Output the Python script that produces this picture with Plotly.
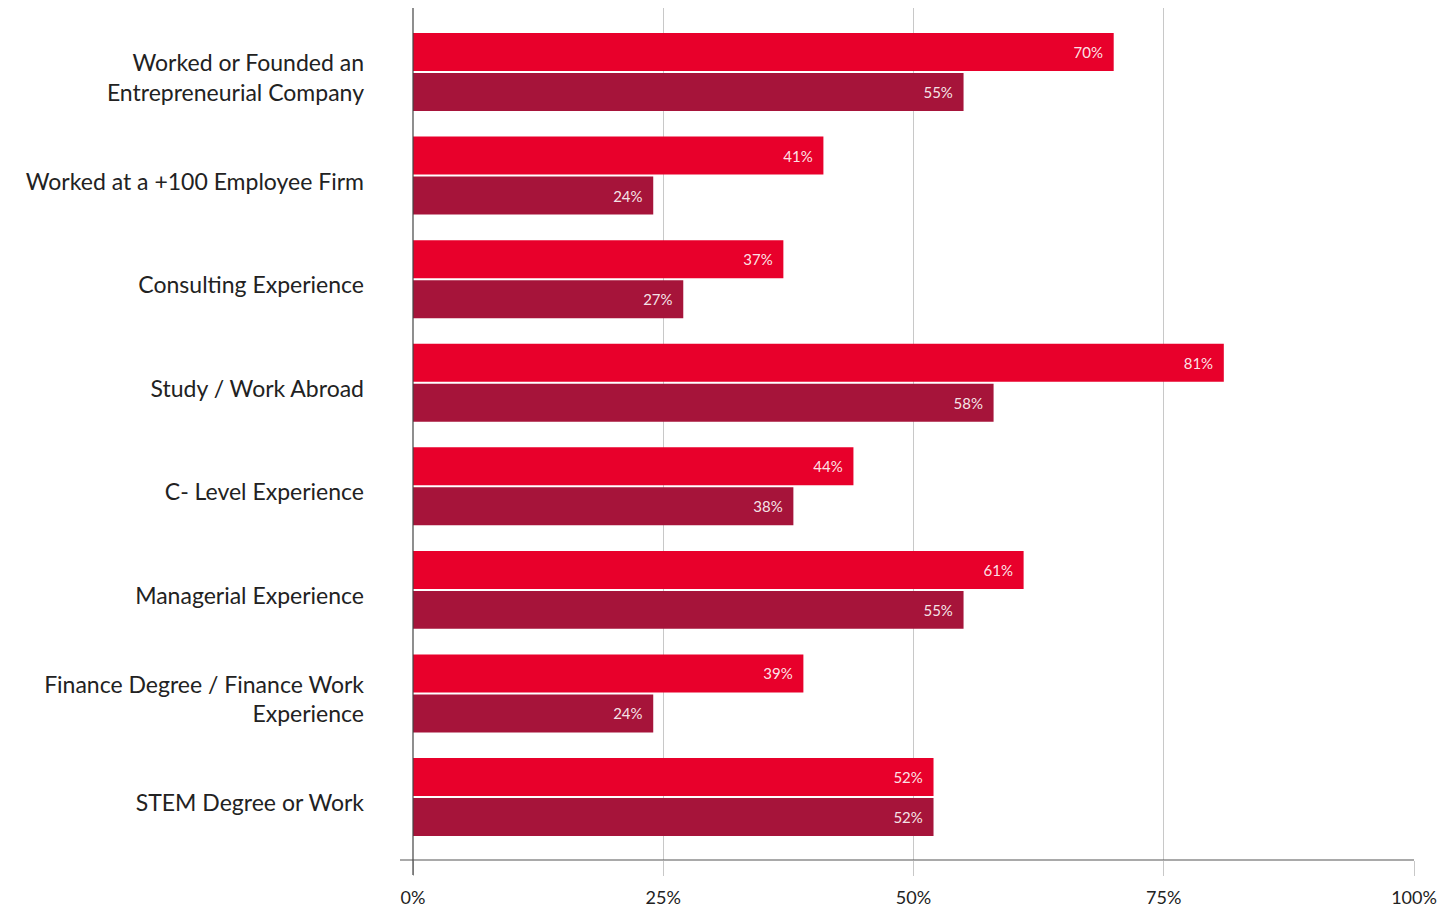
import plotly.graph_objects as go

categories = [
    "Worked or Founded an<br>Entrepreneurial Company",
    "Worked at a +100 Employee Firm",
    "Consulting Experience",
    "Study / Work Abroad",
    "C- Level Experience",
    "Managerial Experience",
    "Finance Degree / Finance Work<br>Experience",
    "STEM Degree or Work",
]
series_1 = [70, 41, 37, 81, 44, 61, 39, 52]
series_2 = [55, 24, 27, 58, 38, 55, 24, 52]
x_ticks = [0, 25, 50, 75, 100]
x_tick_labels = ["0%", "25%", "50%", "75%", "100%"]

FONT = "Lato"
bar_text_font = dict(family=FONT, size=15, color="rgba(255,255,255,0.9)")


def bar_trace(values, color, name):
    return go.Bar(
        y=categories,
        x=values,
        orientation="h",
        name=name,
        marker=dict(color=color, line=dict(width=0)),
        text=[f"{v}%\u00a0\u00a0" for v in values],
        textposition="inside",
        insidetextanchor="end",
        textfont=bar_text_font,
        hoverinfo="x+y",
    )


fig = go.Figure()
fig.add_trace(bar_trace(series_1, "#E8002B", "Series 1"))
fig.add_trace(bar_trace(series_2, "#A6143A", "Series 2"))

fig.update_layout(
    width=1441,
    height=910,
    margin=dict(l=413, r=27, t=8, b=50, autoexpand=False),
    paper_bgcolor="white",
    plot_bgcolor="white",
    barmode="group",
    bargap=0.228,
    bargroupgap=0.05,
    showlegend=False,
    font=dict(family=FONT, color="#222"),
)

fig.update_xaxes(
    range=[0, 100],
    tickvals=x_ticks,
    ticktext=x_tick_labels,
    showgrid=True,
    gridcolor="#c8c8c8",
    gridwidth=1,
    zeroline=False,
    ticks="outside",
    ticklen=15,
    tickcolor="#c8c8c8",
    tickfont=dict(family=FONT, size=18, color="#222"),
    ticklabelstandoff=6,
    showline=False,
    automargin=False,
    fixedrange=True,
)

fig.update_yaxes(
    range=[7.608, -0.618],
    showgrid=False,
    zeroline=False,
    ticks="",
    ticklabelstandoff=48,
    ticklabelshift=-6,
    tickfont=dict(family=FONT, size=23, color="#222"),
    showline=False,
    automargin=False,
    fixedrange=True,
)

# axis lines: horizontal baseline extends a little to the left, vertical line drops below it
fig.add_shape(type="line", xref="paper", yref="paper", x0=-0.013, x1=1, y0=0, y1=0,
              line=dict(color="#555", width=1.2))
fig.add_shape(type="line", xref="paper", yref="paper", x0=0, x1=0, y0=-0.0176, y1=1,
              line=dict(color="#444", width=1.2))

fig.write_html("out.html")
